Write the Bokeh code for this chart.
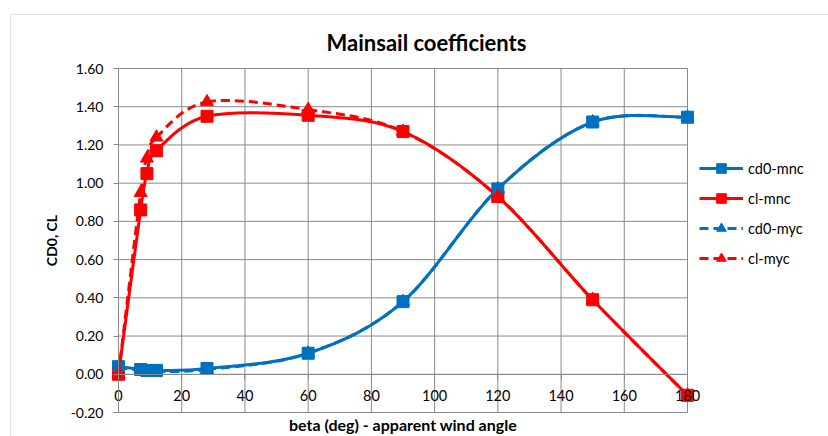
from bokeh.plotting import figure
from bokeh.models import (Range1d, FixedTicker, Legend, LegendItem, Label,
                          BoxAnnotation, NumeralTickFormatter, ColumnDataSource)
from bokeh.embed import file_html
from bokeh.resources import INLINE

# ---- data ----
beta = [0, 7, 9, 12, 28, 60, 90, 120, 150, 180]
cd0_mnc = [0.04, 0.025, 0.02, 0.02, 0.03, 0.11, 0.38, 0.97, 1.32, 1.345]
cl_mnc = [0.00, 0.86, 1.05, 1.17, 1.35, 1.355, 1.27, 0.93, 0.39, -0.11]
cd0_myc = [0.035, 0.02, 0.015, 0.015, 0.025, 0.11, 0.38, 0.97, 1.32, 1.345]
cl_myc = [0.00, 0.95, 1.13, 1.24, 1.425, 1.385, 1.27, 0.93, 0.39, -0.11]

x_ticks = [0, 20, 40, 60, 80, 100, 120, 140, 160, 180]
y_ticks = [-0.2, 0.0, 0.2, 0.4, 0.6, 0.8, 1.0, 1.2, 1.4, 1.6]

BLUE = "#0070C0"
RED = "#FF0000"
GRID = "#8A8A8A"
FONT = "Lato"

# layout (pixels of the canvas)
W, H = 828, 436
PLOT_L, PLOT_R, PLOT_T, PLOT_B = 118, 687, 68, 412   # where 0..180 / -0.2..1.6 sit


def smooth_segments(xs, ys):
    """Excel-like smoothed line: cubic Bezier segments through the points."""
    n = len(xs)
    d = dict(x0=[], y0=[], x1=[], y1=[], cx0=[], cy0=[], cx1=[], cy1=[])
    for i in range(n - 1):
        a = i - 1 if i > 0 else i
        b = i + 2 if i + 2 < n else i + 1
        d["x0"].append(xs[i]); d["y0"].append(ys[i])
        d["x1"].append(xs[i + 1]); d["y1"].append(ys[i + 1])
        d["cx0"].append(xs[i] + (xs[i + 1] - xs[a]) / 6.0)
        d["cy0"].append(ys[i] + (ys[i + 1] - ys[a]) / 6.0)
        d["cx1"].append(xs[i + 1] - (xs[b] - xs[i]) / 6.0)
        d["cy1"].append(ys[i + 1] - (ys[b] - ys[i]) / 6.0)
    return ColumnDataSource(d)


xmin, xmax = x_ticks[0], x_ticks[-1]
ymin, ymax = y_ticks[0], y_ticks[-1]
sx = (PLOT_R - PLOT_L) / (xmax - xmin)
sy = (PLOT_B - PLOT_T) / (ymax - ymin)

# the frame fills the whole canvas so nothing (markers, legend, labels) is clipped
p = figure(width=W, height=H, output_backend="svg", toolbar_location=None,
           x_range=Range1d(xmin - PLOT_L / sx, xmax + (W - PLOT_R) / sx),
           y_range=Range1d(ymin - (H - PLOT_B) / sy, ymax + PLOT_T / sy),
           min_border=0)
p.min_border_left = p.min_border_right = p.min_border_top = p.min_border_bottom = 0
p.background_fill_color = "white"
p.border_fill_color = "white"
p.outline_line_color = None
p.xgrid.visible = False
p.ygrid.visible = False

# chart-area border (only left and top edges fall inside the picture)
p.add_layout(BoxAnnotation(left=10, right=W + 50, top=H - 14, bottom=-50,
                           left_units="screen", right_units="screen",
                           top_units="screen", bottom_units="screen",
                           fill_alpha=0, line_color="#9A9A9A", line_width=1.2,
                           level="underlay"))

# gridlines limited to the plot area
p.segment(x0=[xmin] * len(y_ticks), x1=[xmax] * len(y_ticks), y0=y_ticks, y1=y_ticks,
          line_color=GRID, line_width=1, level="underlay")
p.segment(x0=x_ticks, x1=x_ticks, y0=[ymin] * len(x_ticks), y1=[ymax] * len(x_ticks),
          line_color=GRID, line_width=1, level="underlay")

# x axis crossing at y = 0
xa = p.xaxis[0]
xa.fixed_location = 0
xa.bounds = (xmin, xmax)
xa.ticker = FixedTicker(ticks=x_ticks)
xa.axis_line_color = GRID
xa.major_tick_line_color = GRID
xa.major_tick_out = 5
xa.major_tick_in = 0
xa.minor_tick_line_color = None
xa.major_label_standoff = 11
xa.major_label_text_font = FONT
xa.major_label_text_font_size = "14.5px"
xa.major_label_text_color = "black"
xa.axis_label = "beta (deg) - apparent wind angle"
xa.axis_label_text_font = FONT
xa.axis_label_text_font_size = "16px"
xa.axis_label_text_font_style = "bold"
xa.axis_label_text_color = "black"
xa.axis_label_standoff = 10

# y axis at x = 0
ya = p.yaxis[0]
ya.fixed_location = xmin
ya.bounds = (ymin, ymax)
ya.ticker = FixedTicker(ticks=y_ticks)
ya.formatter = NumeralTickFormatter(format="0.00")
ya.axis_line_color = GRID
ya.major_tick_line_color = GRID
ya.major_tick_out = 5
ya.major_tick_in = 0
ya.minor_tick_line_color = None
ya.major_label_standoff = 10
ya.major_label_text_font = FONT
ya.major_label_text_font_size = "14px"
ya.major_label_text_color = "black"
ya.axis_label = "CD0, CL"
ya.axis_label_text_font = FONT
ya.axis_label_text_font_size = "14px"
ya.axis_label_text_font_style = "bold"
ya.axis_label_text_color = "black"
ya.axis_label_standoff = 8

# chart title
p.add_layout(Label(x=426, y=H - 42, x_units="screen", y_units="screen",
                   text="Mainsail coefficients", text_align="center",
                   text_baseline="middle", text_font=FONT,
                   text_font_size="22px", text_font_style="bold",
                   text_color="black"))

# series
series = [
    ("cd0-mnc", cd0_mnc, BLUE, "solid", "square", 12),
    ("cl-mnc", cl_mnc, RED, "solid", "square", 12),
    ("cd0-myc", cd0_myc, BLUE, "9 5", "triangle", 13),
    ("cl-myc", cl_myc, RED, "9 5", "triangle", 13),
]
items = []
for name, ys, col, dash, marker, size in series:
    src = smooth_segments(beta, ys)
    br = p.bezier(x0="x0", y0="y0", x1="x1", y1="y1", cx0="cx0", cy0="cy0",
                  cx1="cx1", cy1="cy1", source=src, line_color=col,
                  line_width=3, line_dash=dash)
    sr = p.scatter(beta, ys, marker=marker, size=size, fill_color=col,
                   line_color=col, line_width=1)
    items.append(LegendItem(label=name, renderers=[br, sr]))

legend = Legend(items=items, location=(699, H - 270), orientation="vertical",
                glyph_width=44, glyph_height=24, label_height=24,
                label_standoff=5, spacing=6, padding=0, margin=0,
                label_text_font=FONT, label_text_font_size="14.5px",
                label_text_color="black",
                border_line_color=None, background_fill_alpha=0)
p.add_layout(legend)

open("out.html", "w").write(file_html(p, INLINE))
